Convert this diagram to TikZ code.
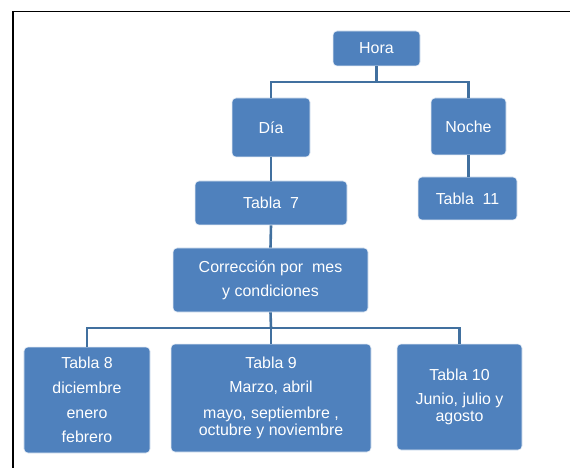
\documentclass[tikz,border=0pt]{standalone}
\usepackage{fontspec}
\setmainfont{Liberation Sans}
\definecolor{boxblue}{HTML}{4F81BD}
\definecolor{lineblue}{HTML}{41709F}
\begin{document}
\begin{tikzpicture}[x=1bp,y=-1bp,
  blk/.style={draw=white!85!boxblue,line width=0.6bp,fill=boxblue,rounded corners=4bp,
    text=white,align=center,inner sep=0pt,
    font=\fontsize{16}{17}\selectfont},
  conn/.style={draw=lineblue,line width=2.6bp}]
\useasboundingbox (0,0) rectangle (570,468);
\draw[line width=1.8bp,black] (13,472) -- (13,11.5) -- (575,11.5);
\node[blk,minimum width=87bp,minimum height=35bp] (hora) at (376.5,48.5) {Hora};
\node[blk,minimum width=78bp,minimum height=59bp] (dia) at (271,127.5) {Día};
\node[blk,minimum width=75bp,minimum height=57bp] (noche) at (468.5,126.5) {Noche};
\node[blk,minimum width=152bp,minimum height=44bp] (t7) at (271,203) {Tabla\ \ 7};
\node[blk,minimum width=99bp,minimum height=43bp] (t11) at (467.5,198.5) {Tabla\ \ 11};
\node[blk,minimum width=195bp,minimum height=64bp] (corr) at (270.5,280) {Corrección por\ \ mes\\[7bp]y condiciones};
\node[blk,minimum width=126bp,minimum height=106bp] (t8) at (87,400) {Tabla 8\\[8bp]diciembre\\[8bp]enero\\[7bp]febrero};
\node[blk,minimum width=200bp,minimum height=108bp] (t9) at (271,398) {Tabla 9\\[7bp]Marzo, abril\\[9bp]mayo, septiembre ,\\octubre y noviembre};
\node[blk,minimum width=125bp,minimum height=106bp] (t10) at (459.5,397) {Tabla 10\\[7bp]Junio, julio y\\agosto};
\coordinate (j1) at (376.5,82);
\coordinate (j2) at (271,328);
\draw[conn] (hora.south) -- (j1);
\draw[conn] (dia.north) -- (dia.north |- j1) -- (noche.north |- j1) -- (noche.north);
\draw[conn] (dia.south) -- (t7.north);
\draw[conn] (noche.south) -- (noche.south |- t11.north);
\draw[conn] (t7.south) -- (corr.north);
\draw[conn] (corr.south) -- (j2);
\draw[conn] (t8.north) -- (t8.north |- j2) -- (t10.north |- j2) -- (t10.north);
\draw[conn] (j2) -- (t9.north);
\end{tikzpicture}
\end{document}
